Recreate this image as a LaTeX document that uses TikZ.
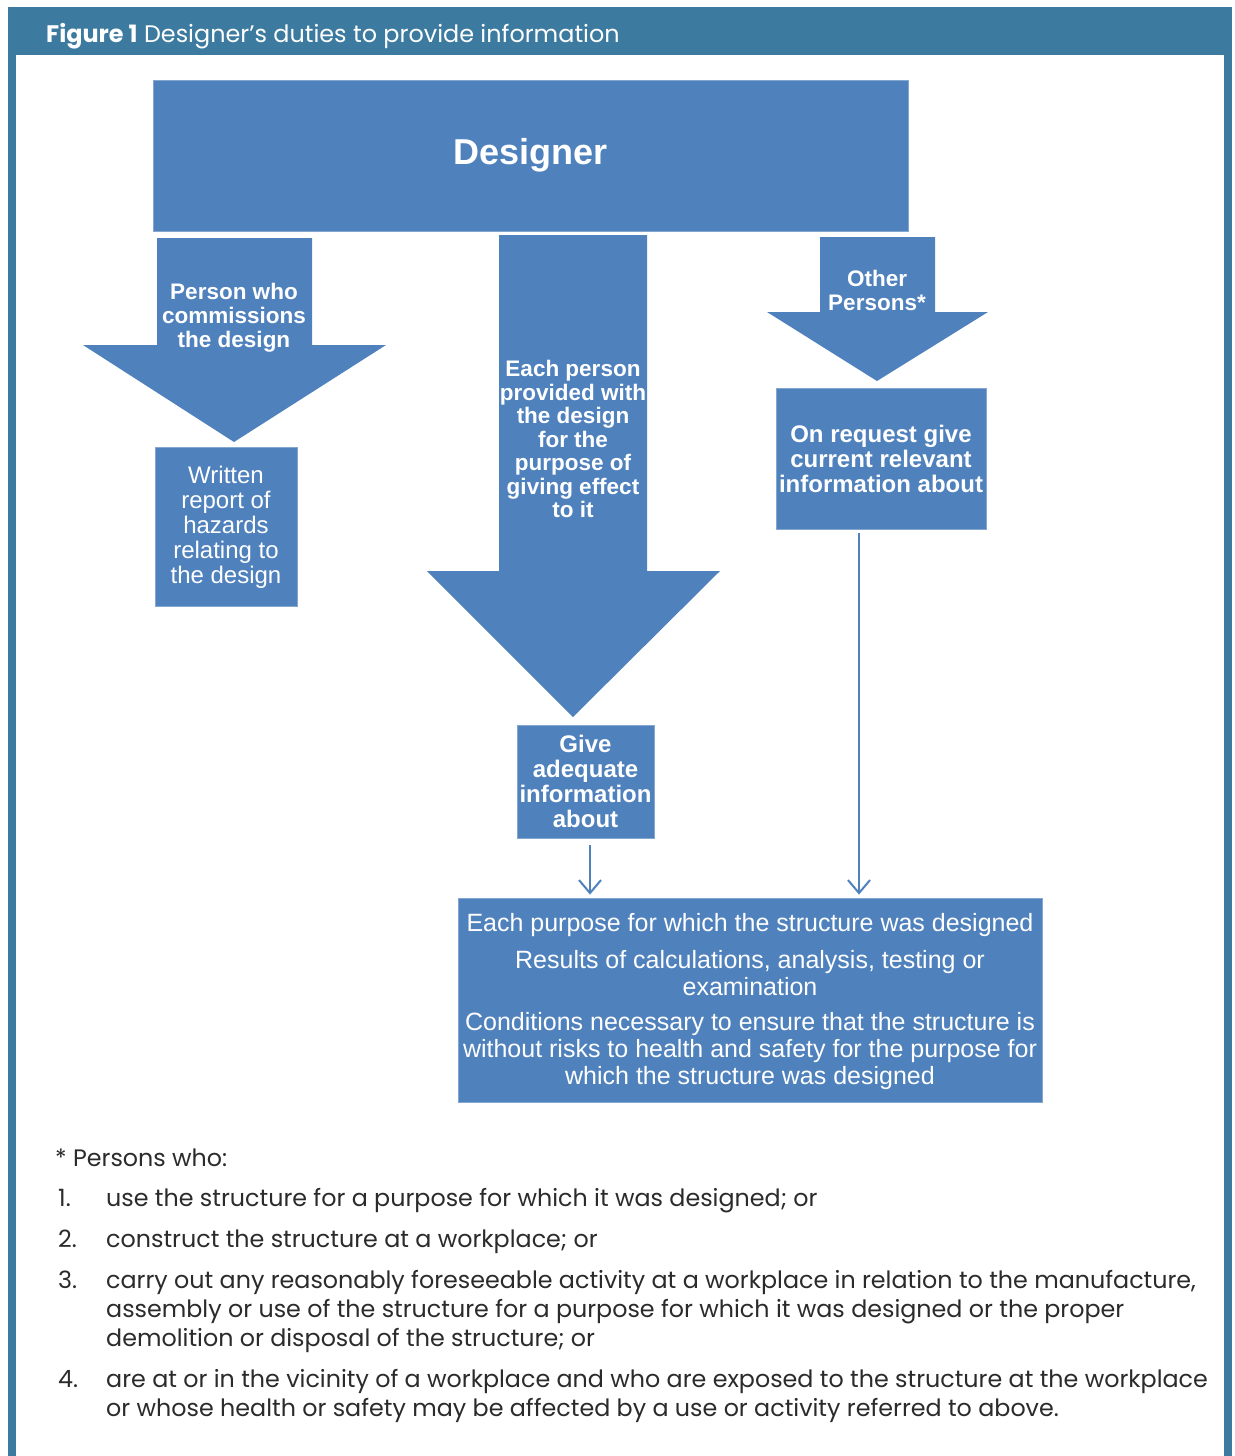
\documentclass[tikz,border=0pt]{standalone}
\usepackage{fontspec}
\setmainfont{Poppins}
\newfontfamily\boxfont{Liberation Sans}
\usetikzlibrary{arrows.meta}
\definecolor{boxblue}{HTML}{4F81BD}
\definecolor{framecol}{HTML}{3C7A9F}
\definecolor{notegrey}{HTML}{2B2B2B}
\tikzset{
  blk/.style={fill=boxblue,draw=boxblue!70!white,line width=0.8pt},
  arrtext/.style={text=white,align=center,font=\boxfont\bfseries\fontsize{22.5}{24}\selectfont,inner sep=0pt},
  boxtext/.style={text=white,align=center,inner sep=0pt},
  conn/.style={draw=boxblue,line width=2pt,-{Straight Barb[length=13pt,width=22pt,line width=2pt]}},
  note/.style={anchor=base west,inner sep=0pt,text=notegrey,font=\fontsize{23.8}{29}\selectfont,align=left}
}
\begin{document}
\begin{tikzpicture}[x=1pt,y=-1pt]
\useasboundingbox (0,0) rectangle (1234,1456);
\fill[white] (0,0) rectangle (1234,1456);
% frame and title band
\fill[framecol] (8,7) rectangle (1232,55);
\fill[framecol] (8,55) rectangle (16,1456);
\fill[framecol] (1224,55) rectangle (1232,1456);
\node[anchor=base west,text=white,inner sep=0pt,font=\fontsize{23.9}{28}\selectfont] (title) at (46,42)
  {\textbf{Figure 1} Designer’s duties to provide information};

% designer box
\node[blk,minimum width=755pt,minimum height=151pt,inner sep=0pt] (designer) at (530.5,155.5)
  {\color{white}\boxfont\bfseries\fontsize{36}{40}\selectfont Designer};

% block arrows
\fill[boxblue] (157,238) -- (312,238) -- (312,345) -- (386,345) -- (234,442) -- (83,345) -- (157,345) -- cycle;
\fill[boxblue] (499,235) -- (647,235) -- (647,571) -- (720,571) -- (573,717) -- (427,571) -- (499,571) -- cycle;
\fill[boxblue] (820,237) -- (935,237) -- (935,312) -- (988,312) -- (877,381) -- (767,312) -- (820,312) -- cycle;
\node[arrtext] (client) at (234,318) {Person who\\commissions\\the design};
\node[arrtext,font=\boxfont\bfseries\fontsize{22.5}{23.5}\selectfont] (each) at (573,439)
  {Each person\\provided with\\the design\\for the\\purpose of\\giving effect\\to it};
\node[arrtext] (others) at (877,290) {Other\\Persons*};

% duty boxes
\node[blk,minimum width=142pt,minimum height=159pt,inner sep=0pt] (written) at (226,526.5)
  {};
\node[boxtext,font=\boxfont\fontsize{24}{25}\selectfont] (writtentxt) at ([yshift=-1pt]written.center)
  {Written\\report of\\hazards\\relating to\\the design};
\node[blk,minimum width=137pt,minimum height=113pt,inner sep=0pt] (give) at (585.5,781.5) {};
\node[boxtext,font=\boxfont\bfseries\fontsize{24}{25}\selectfont] (givetxt) at (give.center)
  {Give\\adequate\\information\\about};
\node[blk,minimum width=210pt,minimum height=141pt,inner sep=0pt] (request) at (881,458.5) {};
\node[boxtext,font=\boxfont\bfseries\fontsize{24}{25}\selectfont] (requesttxt) at (request.center)
  {On request give\\current relevant\\information about};
\node[blk,minimum width=584pt,minimum height=204pt,inner sep=0pt] (info) at (750,1000) {};
\node[boxtext,font=\boxfont\fontsize{25}{27}\selectfont] (infotxt) at ([yshift=-2pt]info.center)
  {Each purpose for which the structure was designed\\[10pt]
   Results of calculations, analysis, testing or\\examination\\[8pt]
   Conditions necessary to ensure that the structure is\\
   without risks to health and safety for the purpose for\\
   which the structure was designed};

% connectors
\path ([xshift=4.5pt]give.south) coordinate (gout);
\path ([xshift=-22pt]request.south) coordinate (rout);
\draw[conn,shorten <=7pt,shorten >=3pt] (gout) -- (gout |- info.north);
\draw[conn,shorten <=4pt,shorten >=3pt] (rout) -- (rout |- info.north);

% footnote
\node[note] (star) at (55,1166) {* Persons who:};
\node[note] (n1) at (58,1206) {1.};
\node[note] (t1) at (106,1206) {use the structure for a purpose for which it was designed; or};
\node[note] (n2) at (58,1247) {2.};
\node[note] (t2) at (106,1247) {construct the structure at a workplace; or};
\node[note] (n3) at (58,1288) {3.};
\node[note] (t3) at (106,1346) {carry out any reasonably foreseeable activity at a workplace in relation to the manufacture,\\
  assembly or use of the structure for a purpose for which it was designed or the proper\\
  demolition or disposal of the structure; or};
\node[note] (n4) at (58,1387) {4.};
\node[note] (t4) at (106,1416) {are at or in the vicinity of a workplace and who are exposed to the structure at the workplace\\
  or whose health or safety may be affected by a use or activity referred to above.};
\end{tikzpicture}
\end{document}
